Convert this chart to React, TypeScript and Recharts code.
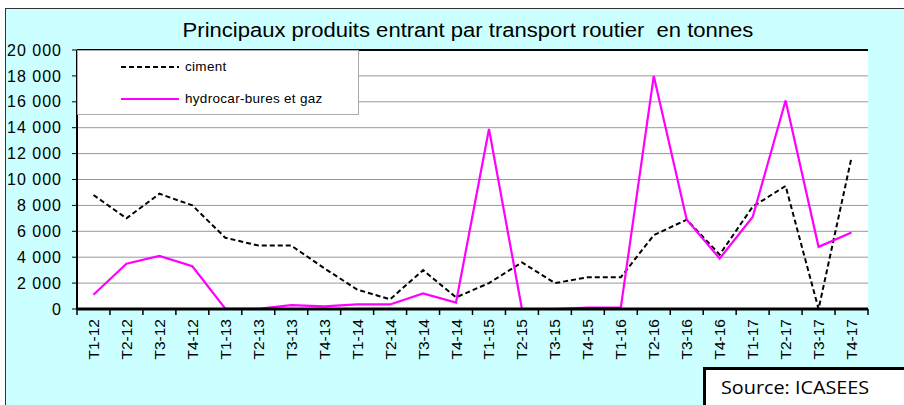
import React from 'react';
import { LineChart, Line, XAxis, YAxis, CartesianGrid, Legend, ReferenceLine } from 'recharts';

const categories = ['T1-12','T2-12','T3-12','T4-12','T1-13','T2-13','T3-13','T4-13','T1-14','T2-14','T3-14','T4-14','T1-15','T2-15','T3-15','T4-15','T1-16','T2-16','T3-16','T4-16','T1-17','T2-17','T3-17','T4-17'];
const cimentValues = [8800,7000,8900,8000,5500,4900,4900,3150,1500,750,3000,900,2000,3600,2000,2450,2450,5700,6900,4200,7900,9500,0,11700];
const hydroValues = [1100,3500,4100,3300,30,20,300,200,350,350,1200,500,13900,0,0,100,100,18000,6900,3900,7100,16100,4800,5900];
const yTicks = [0,2000,4000,6000,8000,10000,12000,14000,16000,18000,20000];
const seriesNames = { ciment: 'ciment', hydro: 'hydrocar-bures et gaz' };
const titleText = 'Principaux produits entrant par transport routier  en tonnes';
const sourceText = 'Source: ICASEES';

const data = categories.map((c, i) => ({ cat: c, ciment: cimentValues[i], hydro: hydroValues[i] }));

const fmt = (v: number) => String(v).replace(/\B(?=(\d{3})+(?!\d))/g, ' ');

const XTick = (props: any) => {
  const { x, y, payload, index } = props;
  const half = payload && typeof payload.offset === 'number' && payload.offset > 0 ? payload.offset : 16.48;
  const axisY = y - 10;
  const isLast = index === categories.length - 1;
  return (
    <g>
      <line x1={x - half} y1={axisY} x2={x - half} y2={axisY + 6} stroke="#000" strokeWidth={1.5} />
      {isLast && <line x1={x + half} y1={axisY} x2={x + half} y2={axisY + 6} stroke="#000" strokeWidth={1.5} />}
      <text x={x} y={y} transform={`rotate(-90 ${x} ${y})`} textAnchor="end" dominantBaseline="central"
        fontSize={15.5} fontFamily="Liberation Sans, Arial, sans-serif" fill="#000">
        {payload.value}
      </text>
    </g>
  );
};

const LegendContent = () => (
  <div style={{ width: 282, height: 65, background: '#fff', border: '1px solid #aaa', boxSizing: 'border-box', fontFamily: 'Liberation Sans, Arial, sans-serif', fontSize: 13.5, letterSpacing: 0.3, color: '#000', position: 'relative' }}>
    <div style={{ position: 'absolute', left: 43, top: 8, display: 'flex', alignItems: 'center' }}>
      <svg width={58} height={6}><line x1={0} y1={3} x2={58} y2={3} stroke="#000" strokeWidth={2} strokeDasharray="5 3" /></svg>
      <span style={{ marginLeft: 6 }}>{seriesNames.ciment}</span>
    </div>
    <div style={{ position: 'absolute', left: 43, top: 40, display: 'flex', alignItems: 'center' }}>
      <svg width={58} height={6}><line x1={0} y1={3} x2={58} y2={3} stroke="#ff00ff" strokeWidth={2} /></svg>
      <span style={{ marginLeft: 6 }}>{seriesNames.hydro}</span>
    </div>
  </div>
);

export default function App() {
  return (
    <div style={{ position: 'absolute', left: 0, top: 0, width: 904, height: 405, overflow: 'hidden', background: '#fff' }}>
      <div style={{ position: 'absolute', left: 5, top: 8, width: 910, height: 410, background: '#ccffff', borderLeft: '1px solid #333', borderTop: '1px solid #333' }} />
      <div style={{ position: 'absolute', left: 0, top: 0 }}>
        <LineChart width={904} height={405} data={data} margin={{ top: 50, right: 36, left: 0, bottom: 36 }}>
          <CartesianGrid vertical={false} stroke="#999" fill="#fff" fillOpacity={1} />
          <XAxis dataKey="cat" scale="band" interval={0} height={60} tickLine={false} tickSize={0}
            axisLine={{ stroke: '#000', strokeWidth: 3 }} tick={<XTick />} tickMargin={10} />
          <YAxis domain={[0, 20000]} ticks={yTicks} tickFormatter={fmt} width={77} interval={0}
            axisLine={{ stroke: '#000', strokeWidth: 2 }} tickLine={{ stroke: '#000' }} tickSize={5} tickMargin={10}
            tick={{ fill: '#000', fontSize: 16, fontFamily: 'Liberation Sans, Arial, sans-serif', letterSpacing: 1 }} />
          <YAxis yAxisId="r" orientation="right" width={0} tick={false} tickLine={false}
            axisLine={{ stroke: '#000', strokeWidth: 3 }} />
          <ReferenceLine y={20000} stroke="#000" strokeWidth={2} />
          <Legend layout="vertical" align="center" verticalAlign="middle" content={<LegendContent />}
            wrapperStyle={{ position: 'absolute', left: 77, top: 50, width: 282, height: 65 }} />
          <Line type="linear" dataKey="ciment" name={seriesNames.ciment} stroke="#000" strokeWidth={2}
            strokeDasharray="5 3" dot={false} isAnimationActive={false} />
          <Line type="linear" dataKey="hydro" name={seriesNames.hydro} stroke="#ff00ff" strokeWidth={2.2}
            dot={false} isAnimationActive={false} />
        </LineChart>
      </div>
      <div style={{ position: 'absolute', left: 0, width: 936, top: 19, textAlign: 'center', fontFamily: 'Liberation Sans, Arial, sans-serif', fontSize: 19.5, color: '#000', whiteSpace: 'pre', transform: 'scaleX(1.13)', transformOrigin: '468px 0' }}>
        {titleText}
      </div>
      <div style={{ position: 'absolute', left: 703, top: 367, width: 220, height: 60, background: '#fff', borderLeft: '3px solid #000', borderTop: '3px solid #000', boxSizing: 'border-box' }}>
        <div style={{ position: 'absolute', left: 15, top: 5, fontFamily: 'Open Sans, sans-serif', fontSize: 18, color: '#000', whiteSpace: 'pre', transform: 'scaleX(1.1)', transformOrigin: '0 0' }}>{sourceText}</div>
      </div>
    </div>
  );
}
